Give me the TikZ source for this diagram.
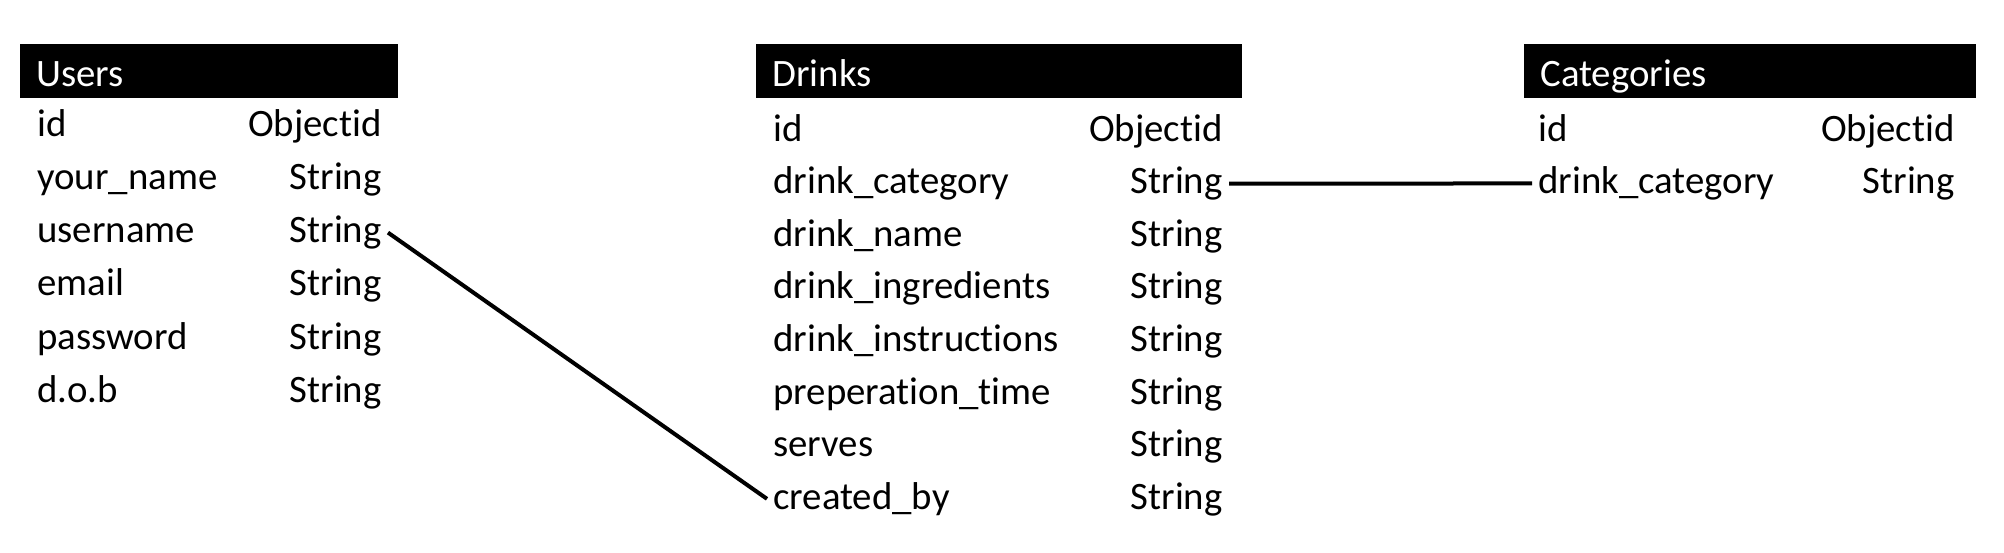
\documentclass[tikz,border=0pt]{standalone}
\usepackage{fontspec}
\setmainfont{Carlito}[Ligatures={NoCommon,NoContextual}]
\usetikzlibrary{positioning}

\tikzset{
  hdr/.style={fill=black, text=white, anchor=north west, align=left,
    inner xsep=8pt, inner ysep=0pt, minimum height=27pt,
    text height=16pt, text depth=1pt},
  fld/.style={anchor=base west, inner xsep=3pt, inner ysep=2pt},
  typ/.style={anchor=base east, inner xsep=3pt, inner ysep=2pt},
  link/.style={line width=2pt},
}

\begin{document}
\begin{tikzpicture}[x=0.5pt, y=-0.5pt,
    every node/.append style={font=\fontsize{19.4}{23}\selectfont}]

      \useasboundingbox (0,0) rectangle (2004,552);

      % Define tables
	  \node[hdr, text width=173pt] (users) at (20,44)   {Users};
	  \node[hdr, text width=227pt] (drinks) at (756,44) {Drinks};
	  \node[hdr, text width=210pt] (cats) at (1524,44)  {Categories};

	  \foreach \k/\f/\t [count=\i from 0] in {id/id/Objectid,
	      yourname/your\_name/String, username/username/String,
	      email/email/String, password/password/String, dob/d.o.b/String} {
	    \node[fld] (u-\k)   at (31,{136+53.3*\i})  {\f};
	    \node[typ] (u-\k-t) at (388,{136+53.3*\i}) {\t};
	  }

	  \foreach \k/\f/\t [count=\i from 0] in {id/id/Objectid,
	      category/drink\_category/String, name/drink\_name/String,
	      ingredients/drink\_ingredients/String,
	      instructions/drink\_instructions/String,
	      preptime/preperation\_time/String, serves/serves/String,
	      createdby/created\_by/String} {
	    \node[fld] (d-\k)   at (767,{141+52.6*\i})  {\f};
	    \node[typ] (d-\k-t) at (1229,{141+52.6*\i}) {\t};
	  }

	  \foreach \k/\f/\t [count=\i from 0] in {id/id/Objectid,
	      category/drink\_category/String} {
	    \node[fld] (c-\k)   at (1532,{141+52.6*\i}) {\f};
	    \node[typ] (c-\k-t) at (1961,{141+52.6*\i}) {\t};
	  }

	  % Connect the tables
	  \draw[link] (u-username-t.east) -- (d-createdby.west);
	  \draw[link] (d-category-t.east) -- (c-category.west);

	\end{tikzpicture}
\end{document}
